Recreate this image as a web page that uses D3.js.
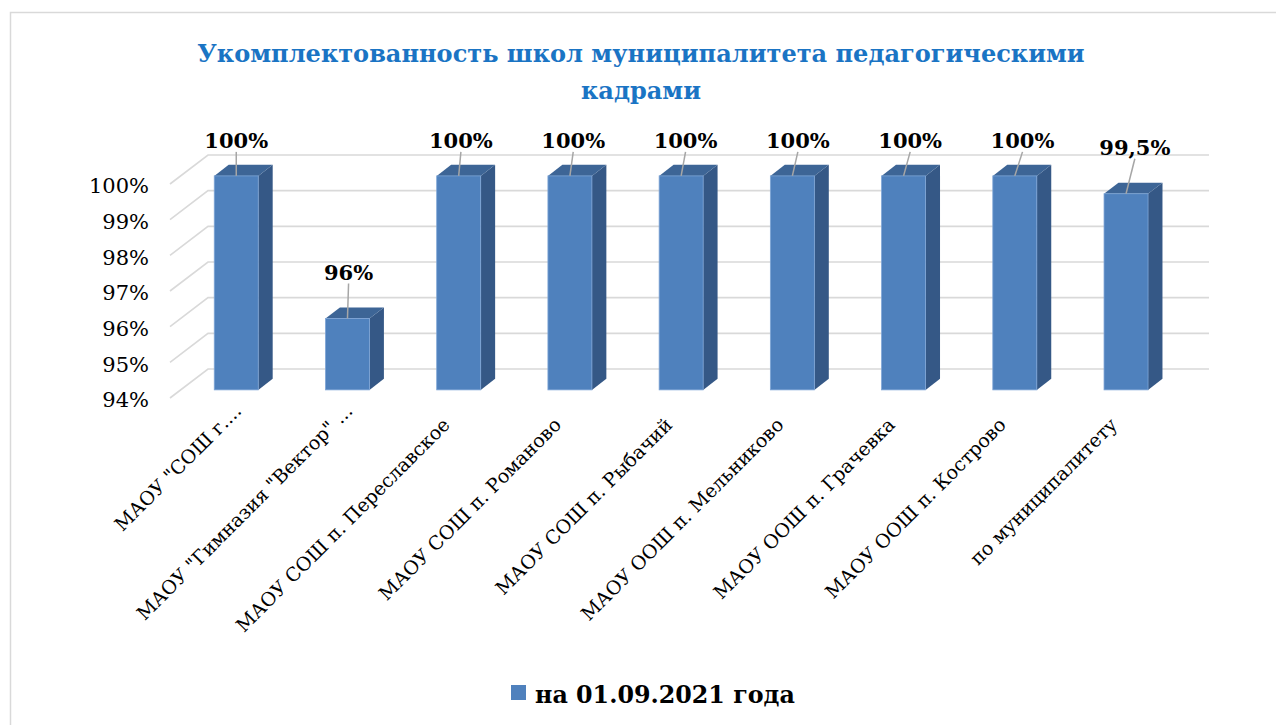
<!DOCTYPE html>
<html>
<head>
<meta charset="utf-8">
<script src="https://cdn.jsdelivr.net/npm/d3@7"></script>
<style>
  body { margin: 0; background: #fff; }
  svg { display: block; font-family: "DejaVu Serif", serif; }
</style>
</head>
<body>
<script>
// chart data
const titleLines = ["Укомплектованность школ муниципалитета педагогическими", "кадрами"];
const categories = [
    'МАОУ "СОШ г....',
    'МАОУ "Гимназия "Вектор" ...',
    "МАОУ СОШ п. Переславское",
    "МАОУ СОШ п. Романово",
    "МАОУ СОШ п. Рыбачий",
    "МАОУ ООШ п. Мельниково",
    "МАОУ ООШ п. Грачевка",
    "МАОУ ООШ п. Кострово",
    "по муниципалитету"
];
const values = [100, 96, 100, 100, 100, 100, 100, 100, 99.5];
const valueLabels = ["100%", "96%", "100%", "100%", "100%", "100%", "100%", "100%", "99,5%"];
const tickValues = [94, 95, 96, 97, 98, 99, 100];
const seriesName = "на 01.09.2021 года";

const width = 1276, height = 725;

const svg = d3.select("body").append("svg")
    .attr("width", width)
    .attr("height", height);

// outer frame
svg.append("rect")
    .attr("x", 10.5).attr("y", 12.5)
    .attr("width", 1300).attr("height", 760)
    .attr("fill", "#fff")
    .attr("stroke", "#d9d9d9")
    .attr("stroke-width", 1.5);

// front plane scales, depth goes back along (dx, dy)
const x = d3.scaleBand().domain(categories).range([170, 1171]).padding(0);
const y = d3.scaleLinear().domain([94, 100]).range([398, 184]);
const depth = {dx: 38, dy: -29};
const t0 = 0.28, t1 = 0.66;   // bar front / back position inside the depth
const barW = 44;

// gridlines: side wall diagonals + back wall
const grid = svg.append("g").attr("stroke", "#d9d9d9").attr("stroke-width", 1.6).attr("fill", "none");
tickValues.forEach(v => {
    const x0 = x.range()[0], x1 = x.range()[1];
    grid.append("path")
        .attr("d", `M${x0},${y(v)}L${x0 + depth.dx},${y(v) + depth.dy}L${x1 + depth.dx},${y(v) + depth.dy}`);
});

// y axis labels
const yAxis = svg.append("g")
    .attr("transform", "translate(157,2)")
    .call(d3.axisLeft(y).tickValues(tickValues).tickSize(0).tickPadding(8).tickFormat(d => d + "%"));
yAxis.select(".domain").remove();
yAxis.selectAll("text")
    .attr("font-family", "DejaVu Serif")
    .attr("font-size", 21)
    .attr("fill", "#000");

// bars
const bars = svg.append("g");
categories.forEach((c, i) => {
    const v = values[i];
    const cx = x(c) + x.bandwidth() / 2 + depth.dx * t0;
    const top = y(v) + depth.dy * t0;
    const bottom = y(94) + depth.dy * t0;
    const l = cx - barW / 2, r = cx + barW / 2;
    const ddx = depth.dx * (t1 - t0), ddy = depth.dy * (t1 - t0);

    bars.append("path")
        .attr("d", `M${r},${top}L${r + ddx},${top + ddy}L${r + ddx},${bottom + ddy}L${r},${bottom}Z`)
        .attr("fill", "#355886");
    bars.append("path")
        .attr("d", `M${l},${top}L${l + ddx},${top + ddy}L${r + ddx},${top + ddy}L${r},${top}Z`)
        .attr("fill", "#3d6596");
    bars.append("rect")
        .attr("x", l).attr("y", top)
        .attr("width", barW).attr("height", bottom - top)
        .attr("fill", "#4f81bd")
        .attr("stroke", "#7ea5d6")
        .attr("stroke-width", 0.8);

    // data label with leader line
    const lx = cx + i * 1.1;
    const ly = top - 35 - (v < 100 ? 11 : 0);
    bars.append("line")
        .attr("x1", lx).attr("y1", ly + 11)
        .attr("x2", cx).attr("y2", top)
        .attr("stroke", "#a6a6a6")
        .attr("stroke-width", 1.5);
    bars.append("text")
        .attr("x", lx).attr("y", ly + 7)
        .attr("text-anchor", "middle")
        .attr("font-weight", "bold")
        .attr("font-size", 21)
        .attr("fill", "#000")
        .text(valueLabels[i]);
});

// category labels, rotated
svg.append("g").selectAll("text")
    .data(categories)
    .join("text")
    .attr("transform", d => {
        const trunc = d.endsWith("...") ? 14 : 0;
        return `translate(${x(d) + x.bandwidth() / 2 + 3 + trunc},${426 - trunc}) rotate(-45)`;
    })
    .attr("text-anchor", "end")
    .attr("font-size", 19)
    .attr("fill", "#000")
    .text(d => d);

// fit a text element to a target width
function fit(sel, target) {
    const w = sel.node().getComputedTextLength();
    const fs = +sel.attr("font-size");
    sel.attr("font-size", fs * target / w);
}

// title
const title = svg.append("g")
    .attr("font-weight", "bold")
    .attr("fill", "#1a74c4")
    .attr("text-anchor", "middle");
const t1Line = title.append("text").attr("x", 641).attr("y", 62).attr("font-size", 26).text(titleLines[0]);
fit(t1Line, 888);
title.append("text").attr("x", 641).attr("y", 99).attr("font-size", t1Line.attr("font-size")).text(titleLines[1]);

// legend
const legend = svg.append("g");
legend.append("rect")
    .attr("x", 511).attr("y", 685)
    .attr("width", 15).attr("height", 15)
    .attr("fill", "#4f81bd");
const legText = legend.append("text")
    .attr("x", 535).attr("y", 703)
    .attr("font-weight", "bold")
    .attr("font-size", 22)
    .attr("fill", "#000")
    .text(seriesName);
fit(legText, 260);
</script>
</body>
</html>
